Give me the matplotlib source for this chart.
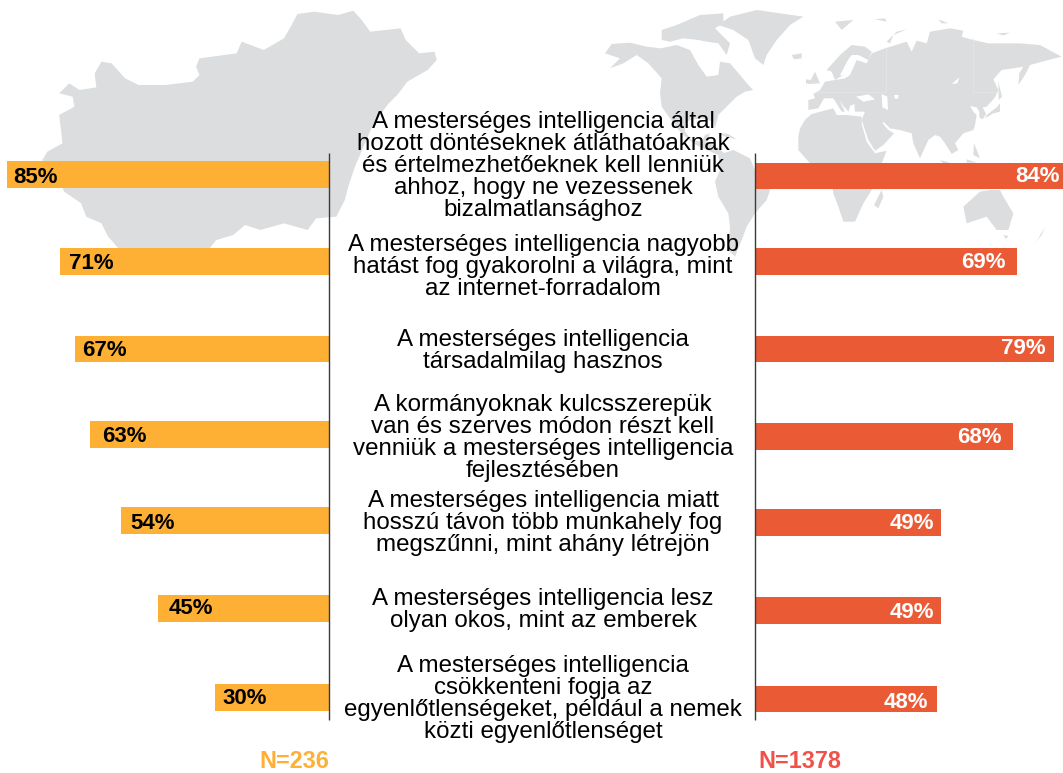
import matplotlib
matplotlib.use("Agg")
import matplotlib.pyplot as plt
from matplotlib.patches import Polygon

plt.rcParams['font.family'] = ['Liberation Sans', 'DejaVu Sans']

statements = [
    "A mesterséges intelligencia által\nhozott döntéseknek átláthatóaknak\nés értelmezhetőeknek kell lenniük\nahhoz, hogy ne vezessenek\nbizalmatlansághoz",
    "A mesterséges intelligencia nagyobb\nhatást fog gyakorolni a világra, mint\naz internet-forradalom",
    "A mesterséges intelligencia\ntársadalmilag hasznos",
    "A kormányoknak kulcsszerepük\nvan és szerves módon részt kell\nvenniük a mesterséges intelligencia\nfejlesztésében",
    "A mesterséges intelligencia miatt\nhosszú távon több munkahely fog\nmegszűnni, mint ahány létrejön",
    "A mesterséges intelligencia lesz\nolyan okos, mint az emberek",
    "A mesterséges intelligencia\ncsökkenteni fogja az\negyenlőtlenségeket, például a nemek\nközti egyenlőtlenséget",
]
hungary_labels = [85, 71, 67, 63, 54, 45, 30]
hungary_bars = [85, 71, 67, 63, 55, 45, 30]   # drawn length
world_values = [84, 69, 79, 68, 49, 49, 48]
hungary_n = "N=236"
world_n = "N=1378"

# layout (pixels)
W, H = 1063, 773
left_rows = [174.3, 261.3, 349, 434.7, 520.3, 608.8, 697.2]
right_rows = [176, 261.7, 349, 436.7, 522.3, 610.7, 699]
left_label_y = [175, 261, 348.8, 434.3, 521.5, 606.7, 695.8]
right_label_y = [174.8, 260.8, 346.7, 435, 521.5, 609.8, 699.8]
text_rows = [166, 267, 351, 438, 523, 610, 699]
left_pad = [6.5, 9, 6.7, 11.7, 10, 10, 6.7]
right_pad = [3, 11, 9, 11.4, 7, 7, 8.6]
PX_PER_PCT = 3.79
SPINE_L, SPINE_R = 329, 755
ORANGE, RED, GREY, BORDER = '#FDB034', '#E95A35', '#DCDDDE', '#E5E6E7'
DIGIT_HALF = 7.7

def z2(pts, ox):
    return [(ox + x / 3, y / 3) for x, y in pts]

hungary = [(880,42),(930,35),(1000,45),(1045,32),(1070,60),(1095,95),(1185,85),(1200,120),(1240,160),(1285,155),
           (1292,180),(1265,210),(1205,245),(1175,285),(1150,310),(1105,370),(1075,440),(1050,500),(1030,560),(1020,600),
           (995,650),(935,655),(910,690),(840,670),(770,690),(725,675),(690,705),(640,720),(620,745),(350,745),
           (320,710),(300,670),(255,650),(240,610),(190,575),(175,540),(125,480),(140,455),(185,430),(175,345),
           (220,320),(215,290),(175,280),(205,250),(235,270),(285,262),(280,220),(300,185),(330,190),(370,235),
           (410,255),(490,255),(570,245),(590,225),(580,200),(590,175),(700,160),(715,125),(780,150),(840,115),(860,80)]
hungary_px = [(x / 2.958, y / 3) for x, y in hungary]

americas = [
    [(45,160),(65,132),(120,128),(170,140),(212,145),(260,135),(300,150),(325,195),(350,230),(385,225),(390,185),(420,190),
     (450,225),(475,255),(490,270),(465,275),(440,290),(410,320),(385,345),(375,385),(370,365),(335,355),(300,360),(285,370),
     (285,395),(305,420),(335,425),(345,405),(360,400),(350,425),(380,440),(405,462),(385,465),(350,450),(310,430),(270,395),
     (240,355),(215,320),(210,280),(215,235),(175,190),(140,165),(100,190),(60,205),(90,175)],
    [(215,90),(260,75),(330,45),(400,40),(400,70),(375,85),(400,110),(420,130),(410,165),(385,130),(350,125),(325,120),(280,115),(240,125),(215,120)],
    [(385,75),(420,50),(500,30),(640,50),(600,75),(560,120),(530,165),(520,195),(495,175),(475,120),(430,90)],
    [(605,165),(635,160),(635,175),(612,178)],
    [(385,465),(430,450),(480,475),(495,510),(540,570),(530,600),(495,640),(470,680),(455,720),(435,770),(415,750),(420,680),(415,640),(385,590),(375,545),(390,510)],
    [(380,398),(415,402),(440,418),(410,412)],
]
old_world = [
    # Eurasia
    [(25,330),(25,300),(45,295),(40,282),(60,270),(75,245),(105,240),(135,235),(150,225),(170,180),(200,190),(215,160),(255,145),(320,125),
     (335,155),(350,122),(380,130),(390,95),(450,85),(490,92),(485,110),(520,120),(565,130),(660,130),(720,135),(785,170),(745,180),(690,195),
     (675,225),(655,255),(658,220),(670,200),(640,205),(605,210),(580,238),(595,270),(585,292),(560,320),(548,322),(558,342),(548,358),(538,352),
     (538,335),(530,322),(510,318),(522,338),(530,345),(525,375),(520,390),(490,400),(465,430),(475,450),(455,462),(435,430),(420,410),(405,405),
     (385,420),(360,475),(340,430),(335,400),(300,390),(270,385),(250,365),(248,370),(265,390),(282,400),(250,435),(225,452),(205,420),(190,375),
     (185,360),(195,335),(165,335),(163,312),(150,318),(146,335),(132,320),(118,300),(135,335),(125,335),(100,295),(72,295),(55,325)],
    # Scandinavia
    [(80,210),(120,165),(155,135),(195,140),(215,155),(205,180),(175,165),(155,165),(135,195),(130,225),(105,240),(95,215)],
    # Africa
    [(-5,410),(0,385),(15,360),(35,342),(100,325),(110,345),(140,345),(185,350),(185,372),(200,425),(225,460),(260,452),(245,490),(215,570),(190,610),(165,665),(130,665),(115,620),(100,580),(85,490),(30,490),(-5,450)],
    [(245,570),(250,590),(235,625),(222,615)],
    [(490,620),(540,575),(570,570),(600,570),(610,590),(640,640),(625,690),(590,690),(560,650),(500,670)],
    [(610,705),(625,708),(618,718)],
    [(735,680),(725,705),(700,735),(715,715)],
    [(600,310),(600,335),(580,340),(555,355),(560,345),(590,322)],
    [(595,245),(606,290),(596,300)],
    [(522,430),(540,475),(520,465)],
    [(105,65),(160,60),(125,90)],
    [(225,58),(255,55),(260,65)],
    [(260,125),(290,95),(320,88),(280,105),(270,130)],
    [(45,215),(60,250),(25,252),(35,235)],
    [(18,238),(32,240),(28,252),(18,250)],
    [(420,480),(450,488),(430,490)],
    [(500,478),(530,488),(500,488)],
    [(415,58),(445,70),(425,70)],
    [(590,100),(630,98),(610,106)],
]
sea_holes = [
    [(168,290),(205,283),(225,298),(190,305)],
    [(245,282),(262,290),(264,330),(247,322)],
    [(283,285),(296,285),(294,296),(284,296)],
    [(455,252),(478,232),(472,250)],
    [(120,225),(150,170),(152,175),(128,228)],
]
border_lines = [
    ([258, 258, 50], [145, 275, 275]),
    ([520, 520, 590], [115, 275, 275]),
]

fig = plt.figure(figsize=(W / 100, H / 100), dpi=100, facecolor='white')
bg = fig.add_axes([0, 0, 1, 1])
bg.set_xlim(0, W); bg.set_ylim(H, 0); bg.axis('off')
bg.add_patch(Polygon(hungary_px, closed=True, fc=GREY, ec='none'))
for p in americas:
    bg.add_patch(Polygon(z2(p, 590), closed=True, fc=GREY, ec='none'))
for p in old_world:
    bg.add_patch(Polygon(z2(p, 800), closed=True, fc=GREY, ec='none'))
for p in sea_holes:
    bg.add_patch(Polygon(z2(p, 800), closed=True, fc='white', ec='none'))
for xs, ys in border_lines:
    pts = z2(list(zip(xs, ys)), 800)
    bg.plot([a for a, _ in pts], [b for _, b in pts], color=BORDER, lw=0.5)

axl = fig.add_axes([0, 0, SPINE_L / W, 1], facecolor='none')
axl.set_xlim(SPINE_L / PX_PER_PCT, 0); axl.set_ylim(H, 0); axl.axis('off')
axr = fig.add_axes([SPINE_R / W, 0, (W - SPINE_R) / W, 1], facecolor='none')
axr.set_xlim(0, (W - SPINE_R) / PX_PER_PCT); axr.set_ylim(H, 0); axr.axis('off')

axl.barh(left_rows, hungary_bars, height=26.7, color=ORANGE, lw=0)
axr.barh(right_rows, world_values, height=26.7, color=RED, lw=0)

px_to_pt = 72 / 100
for y, b, v, pad in zip(left_label_y, hungary_bars, hungary_labels, left_pad):
    axl.annotate(f"{v}%", (b, y + DIGIT_HALF), xytext=(pad * px_to_pt, 0), textcoords='offset points',
                 ha='left', va='baseline', fontsize=16, fontweight='bold', color='black')
for y, v, pad in zip(right_label_y, world_values, right_pad):
    xv = min(v, (W - SPINE_R) / PX_PER_PCT)
    axr.annotate(f"{v}%", (xv, y + DIGIT_HALF), xytext=(-pad * px_to_pt, 0), textcoords='offset points',
                 ha='right', va='baseline', fontsize=16, fontweight='bold', color='white')

top = fig.add_axes([0, 0, 1, 1], facecolor='none')
top.set_xlim(0, W); top.set_ylim(H, 0); top.axis('off')
for xs in (SPINE_L, SPINE_R):
    top.plot([xs, xs], [153, 720], color='#3A3A3A', lw=1.0, solid_capstyle='butt')
for y, s in zip(text_rows, statements):
    top.text(543, y, s, ha='center', va='center', multialignment='center',
             fontsize=17.4, color='black', linespacing=1.0)
top.text(SPINE_L, 768.5, hungary_n, ha='right', va='baseline', fontsize=16.8, fontweight='bold', color=ORANGE)
top.text(758, 768.5, world_n, ha='left', va='baseline', fontsize=16.8, fontweight='bold', color='#F0524A')

fig.savefig('out.png', dpi=100)
